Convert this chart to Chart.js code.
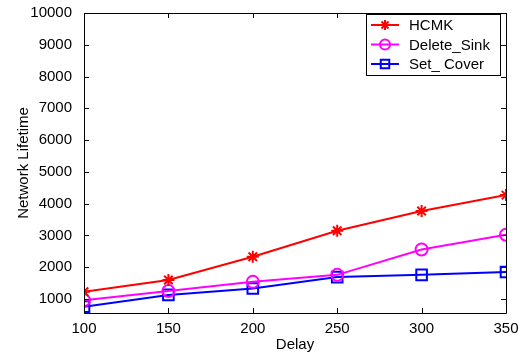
<!DOCTYPE html>
<html>
<head>
<meta charset="utf-8">
<script src="https://cdn.jsdelivr.net/npm/chart.js@4"></script>
<style>
  html, body { margin: 0; padding: 0; background: #fff; }
  #wrap { width: 525px; height: 360px; }
</style>
</head>
<body>
<div id="wrap"><canvas id="lifetime_chart" width="525" height="360"></canvas></div>
<script>
const delays = [100, 150, 200, 250, 300, 350];
const hcmk = [1230, 1600, 2330, 3150, 3770, 4270];
const delete_sink = [960, 1250, 1540, 1760, 2560, 3020];
const set_cover = [760, 1130, 1330, 1690, 1760, 1850];
const y_ticks = [1000, 2000, 3000, 4000, 5000, 6000, 7000, 8000, 9000, 10000];
const x_ticks = [100, 150, 200, 250, 300, 350];

const font_family = "'Liberation Sans', Arial, Helvetica, sans-serif";
const ctx = document.getElementById("lifetime_chart").getContext("2d");

function toPoints(values){
    return values.map((v, i) => ({x: delays[i], y: v}));
}

// matlab style frame: box all round, ticks pointing inward, legend in the corner
const framePlugin = {
    id: "frame",
    afterDraw(chart){
        const c = chart.ctx;
        const area = chart.chartArea;
        const xs = chart.scales.x, ys = chart.scales.y;
        c.save();
        c.strokeStyle = "#000";
        c.lineWidth = 1;
        c.beginPath();
        c.rect(area.left + 0.5, area.top + 0.5, area.right - area.left, area.bottom - area.top);
        x_ticks.forEach(t => {
            const px = Math.round(xs.getPixelForValue(t)) + 0.5;
            c.moveTo(px, area.bottom); c.lineTo(px, area.bottom - 5);
            c.moveTo(px, area.top); c.lineTo(px, area.top + 5);
        });
        y_ticks.forEach(t => {
            const py = Math.round(ys.getPixelForValue(t)) + 0.5;
            c.moveTo(area.left, py); c.lineTo(area.left + 5, py);
            c.moveTo(area.right, py); c.lineTo(area.right - 5, py);
        });
        c.stroke();

        // legend
        const lx = 366, ly = 14, lw = 134, lh = 61;
        c.fillStyle = "#fff";
        c.fillRect(lx, ly, lw, lh);
        c.strokeRect(lx + 0.5, ly + 0.5, lw, lh);
        c.font = "15px " + font_family;
        c.textBaseline = "middle";
        chart.data.datasets.forEach((ds, i) => {
            const y = ly + 11 + i * 19.5;
            c.strokeStyle = ds.borderColor;
            c.lineWidth = 2;
            c.beginPath();
            c.moveTo(lx + 5, y); c.lineTo(lx + 33, y);
            c.stroke();
            c.fillStyle = "rgba(0,0,0,0)";
            Chart.helpers.drawPoint(c, {
                pointStyle: ds.pointStyle,
                radius: ds.pointStyle === "rect" ? 6 : 5,
                rotation: 0,
                borderWidth: 2
            }, lx + 19, y);
            c.fillStyle = "#000";
            c.fillText(ds.label, lx + 43, y + 1);
        });
        c.restore();
    }
};

new Chart(ctx, {
    type: "line",
    data: {
        datasets: [
            {label: "HCMK", data: toPoints(hcmk), borderColor: "#ff0000",
             pointStyle: "star", pointRadius: 6},
            {label: "Delete_Sink", data: toPoints(delete_sink), borderColor: "#ff00ff",
             pointStyle: "circle", pointRadius: 6},
            {label: "Set_ Cover", data: toPoints(set_cover), borderColor: "#0000ff",
             pointStyle: "rect", pointRadius: 7.5}
        ].map(ds => Object.assign(ds, {
            borderWidth: 2,
            pointBorderWidth: 2,
            pointBorderColor: ds.borderColor,
            pointBackgroundColor: "rgba(0,0,0,0)",
            tension: 0
        }))
    },
    options: {
        responsive: false,
        animation: false,
        layout: {padding: {top: 8, right: 19, left: 0, bottom: 0}},
        plugins: {legend: {display: false}, tooltip: {enabled: false}},
        scales: {
            x: {
                type: "linear",
                min: 100, max: 350,
                grid: {display: false},
                border: {display: false},
                afterBuildTicks: s => { s.ticks = x_ticks.map(v => ({value: v})); },
                afterFit: s => { s.height = 47; },
                ticks: {color: "#000", font: {family: font_family, size: 15}, padding: -1,
                        maxRotation: 0, callback: v => String(v)},
                title: {display: true, text: "Delay", color: "#000",
                        font: {family: font_family, size: 15}, padding: {top: 0, bottom: 6}}
            },
            y: {
                min: 560, max: 10000,
                grid: {display: false},
                border: {display: false},
                afterBuildTicks: s => { s.ticks = y_ticks.map(v => ({value: v})); },
                afterFit: s => { s.width = 84; },
                ticks: {color: "#000", font: {family: font_family, size: 15}, padding: 4,
                        callback: v => String(v)},
                title: {display: true, text: "Network Lifetime", color: "#000",
                        font: {family: font_family, size: 15}, padding: {top: 15, bottom: 0}}
            }
        }
    },
    plugins: [framePlugin]
});
</script>
</body>
</html>
